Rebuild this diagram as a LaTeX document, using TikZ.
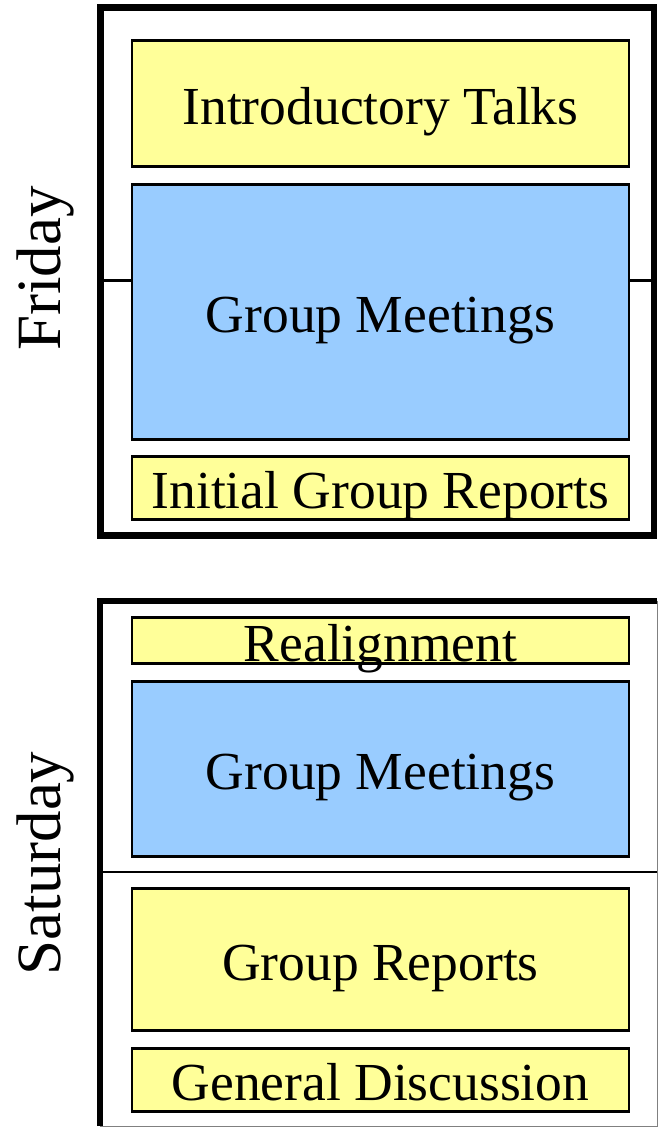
\documentclass[tikz,border=0pt]{standalone}
\usepackage{fontspec}
\setmainfont{Liberation Serif}
\usetikzlibrary{positioning}
\definecolor{paleyellow}{HTML}{FFFF99}
\definecolor{paleblue}{HTML}{99CCFF}

\begin{document}
\begin{tikzpicture}[x=1pt,y=-1pt,
    slot/.style={rectangle,draw,line width=2.5pt,minimum width=497pt,inner sep=0pt,
      text height=41pt,text depth=0pt,font=\fontsize{53.5}{60}\selectfont},
    plenary/.style={slot,fill=paleyellow},
    meeting/.style={slot,fill=paleblue},
    daylabel/.style={rotate=90,font=\fontsize{63}{70}\selectfont}]
    \useasboundingbox (0,0) rectangle (658,1128);

    % Friday
    \node[rectangle,draw,line width=6.5pt,minimum width=553.5pt,minimum height=528pt] (fri) at (377.25,271.5) {};
    \node[daylabel] (friday) at (45.5,268.5) {Friday};
    \node[plenary,minimum height=126pt] (intro) at (380.5,103.5) {Introductory Talks};
    \node[meeting,minimum height=255pt] (meet1) at (380.5,312) {Group Meetings};
    \node[plenary,minimum height=63pt] (initrep) at (380.5,488) {Initial Group Reports};

    \coordinate (fl) at (fri.west |- 0,280);
    \coordinate (fr) at (fri.east |- 0,280);
    \draw[line width=3pt] (fl) -- (meet1.west |- fl);
    \draw[line width=3pt] (meet1.east |- fr) -- (fr);

    % Saturday
    \coordinate (satnw) at (100,601);
    \coordinate (satne) at (657,601);
    \coordinate (satsw) at (100,1126);
    \coordinate (satse) at (657,1126);
    \draw[line width=1pt,gray] (satne) -- (satse) -- (satsw);
    \draw[line width=6.5pt] (satsw) -- (satnw) -- (satne);
    \node[daylabel] (saturday) at (45.5,863.5) {Saturday};
    \node[plenary,minimum height=46pt] (realign) at (380.5,640.5) {Realignment};
    \node[meeting,minimum height=175pt] (meet2) at (380.5,769) {Group Meetings};
    \node[plenary,minimum height=142pt] (reports) at (380.5,959.5) {Group Reports};
    \node[plenary,minimum height=63pt] (discuss) at (380.5,1080) {General Discussion};

    \coordinate (sl) at (satnw |- 0,872);
    \coordinate (sr) at (satne |- 0,872);
    \draw[line width=2.5pt] (sl) -- (sr);
\end{tikzpicture}
\end{document}
